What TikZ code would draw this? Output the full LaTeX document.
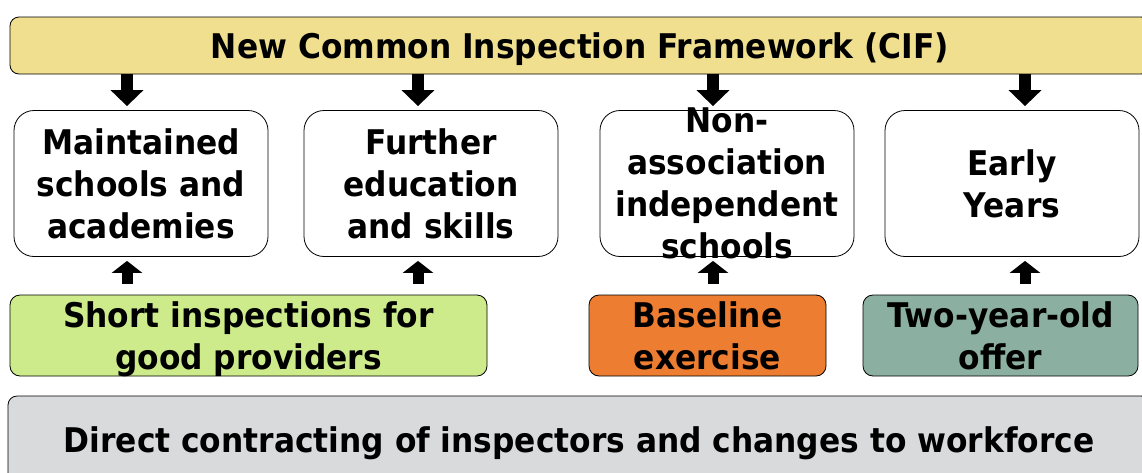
\documentclass[tikz,border=0pt]{standalone}
\usepackage{fontspec}
\setmainfont[FakeStretch=0.92]{DejaVu Sans}
\usetikzlibrary{positioning, arrows.meta}

\definecolor{cifyellow}{RGB}{240,223,142}
\definecolor{shortgreen}{RGB}{205,235,139}
\definecolor{baseorange}{RGB}{237,125,49}
\definecolor{twoteal}{RGB}{139,175,160}
\definecolor{workgray}{RGB}{217,218,220}

\begin{document}
\begin{tikzpicture}[x=1pt, y=-1pt, on grid, font=\fontsize{34}{42}\selectfont\bfseries]
    \tikzset{
        wide/.style={draw, line width=0.8pt, rounded corners=9pt, text depth=0pt},
        midbox/.style={draw, line width=0.8pt, rounded corners=20pt, minimum width=254pt, minimum height=146pt, align=center, fill=white},
        lowbox/.style={draw, line width=0.8pt, rounded corners=10pt, minimum height=81pt, align=center, text depth=0pt},
        downarr/.style={line width=12pt, -{Triangle[length=16pt, width=32pt]}, shorten >=4pt},
        uparr/.style={line width=11pt, -{Triangle[length=12pt, width=30pt]}, shorten <=11pt, shorten >=4pt}
    }

    \useasboundingbox (0,0) rectangle (1142,472);

    % FRAMEWORK
    \node[wide, fill=cifyellow, minimum width=1140pt, minimum height=57pt] (cif) at (580,45.5) {New Common Inspection Framework (CIF)};

    % PROVIDERS
    \node[midbox] (maint) at (141,183.5) {Maintained\\schools and\\academies};
    \node[midbox] (fe) [right=290pt of maint] {Further\\education\\and skills};
    \node[midbox, label={[align=center]center:Non-\\association\\independent\\schools}] (nais) [right=296pt of fe] {};
    \node[midbox] (ey) [right=285pt of nais] {Early\\Years};

    % CHANGES
    \node[lowbox, fill=shortgreen, minimum width=477pt] (short) at (248.5,335.5) {Short inspections for\\good providers};
    \node[lowbox, fill=baseorange, minimum width=237pt] (base) at (707.5,335.5) {Baseline\\exercise};
    \node[lowbox, fill=twoteal, minimum width=275pt] (two) at (1000.5,335.5) {Two-year-old\\offer};
    \node[wide, fill=workgray, minimum width=1142pt, minimum height=88pt] (work) at (579,440) {Direct contracting of inspectors and changes to workforce};

    % ARROW COLUMNS
    \coordinate (c1) at ([xshift=-14pt]maint.center);
    \coordinate (c2) at ([xshift=-13pt]fe.center);
    \coordinate (c3) at ([xshift=-14pt]nais.center);
    \coordinate (c4) at ([xshift=13pt]ey.center);

    % ARROWS
    \path[downarr]
        (c1 |- cif.south) edge (c1 |- maint.north)
        (c2 |- cif.south) edge (c2 |- fe.north)
        (c3 |- cif.south) edge (c3 |- nais.north)
        (c4 |- cif.south) edge (c4 |- ey.north);
    \path[uparr]
        (c1 |- short.north) edge (c1 |- maint.south)
        (c2 |- short.north) edge (c2 |- fe.south)
        (c3 |- base.north) edge (c3 |- nais.south)
        (c4 |- two.north) edge (c4 |- ey.south);

\end{tikzpicture}
\end{document}
